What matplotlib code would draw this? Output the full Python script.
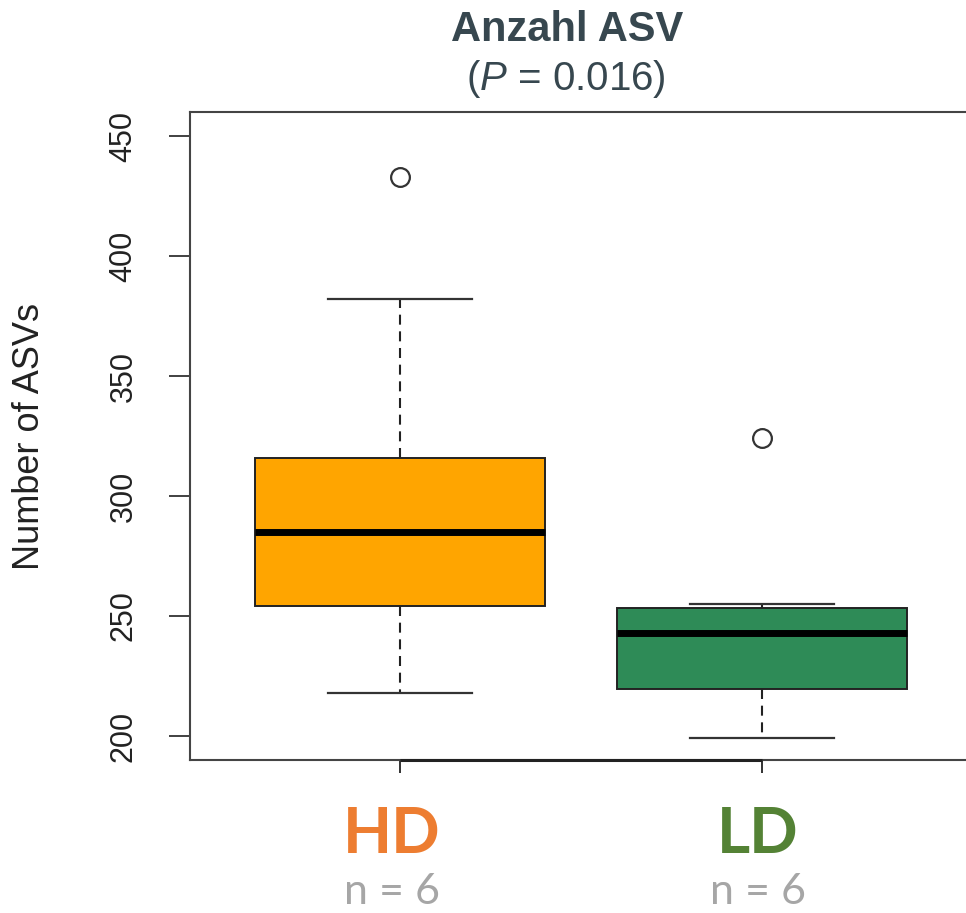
import matplotlib
matplotlib.use("Agg")
import matplotlib.pyplot as plt

# box statistics (R style boxplot)
groups = ["HD", "LD"]
n_labels = ["n = 6", "n = 6"]
medians = [285, 243]
q1 = [254, 219.5]
q3 = [316, 253.5]
whisk_lo = [218, 199]
whisk_hi = [382, 255]
outliers = [[433], [324]]

box_colors = ["#FFA500", "#2E8B57"]
label_colors = ["#ED7D31", "#548235"]
yticks = [200, 250, 300, 350, 400, 450]

title_color = "#37474F"

plt.rcParams["font.family"] = ["Liberation Sans", "DejaVu Sans"]
plt.rcParams["mathtext.fontset"] = "custom"
plt.rcParams["mathtext.it"] = "Liberation Sans:italic"
plt.rcParams["mathtext.rm"] = "Liberation Sans"

W, H = 966, 913
fig = plt.figure(figsize=(W / 100, H / 100), dpi=100)


def px(x, y):
    return x / W, 1 - y / H


# axes frame: left 190 px, top 112 px, bottom 760 px, right just off the picture
ax = fig.add_axes([190 / W, (H - 760) / H, (972 - 190) / W, (760 - 112) / H])

stats = []
for i in range(len(groups)):
    stats.append(dict(med=medians[i], q1=q1[i], q3=q3[i],
                      whislo=whisk_lo[i], whishi=whisk_hi[i],
                      fliers=outliers[i], label=groups[i]))

bp = ax.bxp(stats, positions=[1, 2], widths=0.8, patch_artist=True,
            showfliers=True,
            boxprops=dict(linewidth=1.4, edgecolor="#222222"),
            medianprops=dict(color="black", linewidth=5, solid_capstyle="butt"),
            whiskerprops=dict(color="#222222", linewidth=1.5,
                              linestyle=(0, (4.8, 3.2))),
            capprops=dict(color="#333333", linewidth=1.6),
            capwidths=0.4,
            flierprops=dict(marker="o", markerfacecolor="none",
                            markeredgecolor="#333333", markersize=13.5,
                            markeredgewidth=1.6))
for patch, c in zip(bp["boxes"], box_colors):
    patch.set_facecolor(c)

ax.set_xlim(0.42, 2.58)
ax.set_ylim(190, 460)

for s in ax.spines.values():
    s.set_color("#444444")
    s.set_linewidth(1.5)

ax.set_yticks(yticks)
ax.set_yticklabels([str(t) for t in yticks], rotation=90, va="center",
                   fontsize=22, color="#222222")
ax.tick_params(axis="y", length=15, width=1.3, color="#333333", pad=22)
ax.set_xticks([1, 2])
ax.set_xticklabels(["", ""])
ax.tick_params(axis="x", length=9.5, width=1.3, color="#222222")

# darker axis segment between the x ticks, like R's axis() over the box
ax.plot([1, 2], [190, 190], color="#222222", linewidth=2.2, clip_on=False,
        solid_capstyle="butt", zorder=5)

fig.text(*px(30, 437), "Number of ASVs", rotation=90, ha="center",
         va="center", fontsize=26, color="#222222")

# title
fig.text(*px(567, 41), "Anzahl ASV", ha="center", va="baseline",
         fontsize=30, fontweight="bold", color=title_color)
fig.text(*px(566, 90), r"($P$ = 0.016)", ha="center", va="baseline",
         fontsize=29, color=title_color)

# group labels under the axis
label_x = [392, 758]
for i in range(len(groups)):
    fig.text(*px(label_x[i], 853), groups[i], ha="center", va="baseline",
             fontsize=46, fontweight="bold", color=label_colors[i],
             family=["Lato", "DejaVu Sans"])
    fig.text(*px(label_x[i], 904), n_labels[i], ha="center", va="baseline",
             fontsize=31, color="#A6A6A6", family=["Lato", "DejaVu Sans"])

fig.savefig("out.png", dpi=100)
